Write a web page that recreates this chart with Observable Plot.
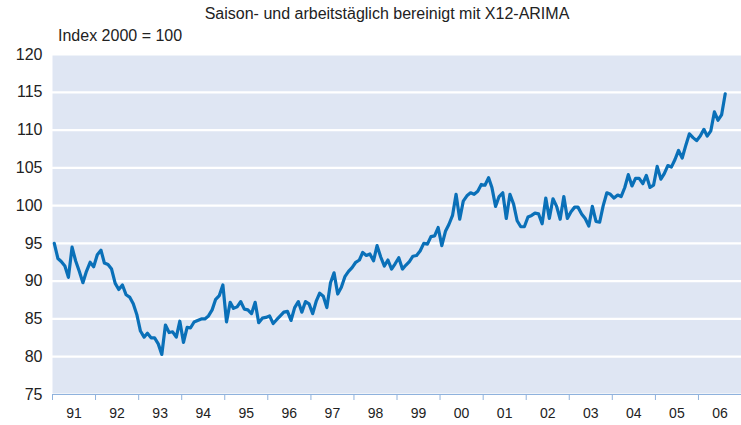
<!DOCTYPE html>
<html>
<head>
<meta charset="utf-8">
<script src="https://cdn.jsdelivr.net/npm/d3@7"></script>
<script src="https://cdn.jsdelivr.net/npm/@observablehq/plot@0.6"></script>
<style>
  body { margin: 0; background: #fff; font-family: "Liberation Sans", Arial, sans-serif; color: #222; }
  #title { height: 27px; line-height: 27px; text-align: center; padding-left: 33px; font-size: 16px; width: 708px; }
  #sub { height: 18px; line-height: 18px; padding-left: 58px; font-size: 16px; }
</style>
</head>
<body>
<div id="title">Saison- und arbeitstäglich bereinigt mit X12-ARIMA</div>
<div id="sub">Index 2000 = 100</div>
<div id="chart"></div>
<script>
const startYear = 1991;
const yearLabels = ["91","92","93","94","95","96","97","98","99","00","01","02","03","04","05","06"];
const yTicks = [75, 80, 85, 90, 95, 100, 105, 110, 115, 120];

const v1991 = [95.0, 93.0, 92.6, 92.0, 90.5, 94.5, 92.7, 91.3, 89.8, 91.3, 92.5, 91.9];
const v1992 = [93.5, 94.1, 92.4, 92.2, 91.6, 89.7, 88.9, 89.5, 88.2, 87.9, 87.0, 85.6];
const v1993 = [83.4, 82.6, 83.1, 82.5, 82.5, 81.7, 80.3, 84.2, 83.2, 83.3, 82.6, 84.7];
const v1994 = [81.9, 83.9, 83.8, 84.6, 84.8, 85.0, 85.0, 85.4, 86.2, 87.6, 88.1, 89.5];
const v1995 = [84.6, 87.2, 86.4, 86.6, 87.3, 86.3, 86.2, 85.7, 87.2, 84.5, 85.1, 85.2];
const v1996 = [85.4, 84.4, 84.9, 85.4, 85.9, 86.0, 84.8, 86.5, 87.3, 85.9, 87.3, 87.0];
const v1997 = [85.7, 87.4, 88.4, 88.0, 86.5, 89.8, 91.1, 88.3, 89.2, 90.6, 91.3, 91.8];
const v1998 = [92.5, 92.8, 93.8, 93.4, 93.6, 92.7, 94.7, 93.2, 92.0, 92.8, 91.6, 92.3];
const v1999 = [93.1, 91.6, 92.1, 92.6, 93.3, 93.4, 94.0, 95.0, 94.9, 95.9, 96.0, 97.1];
const v2000 = [94.7, 96.6, 97.5, 98.7, 101.5, 98.2, 100.6, 101.3, 101.7, 101.5, 101.9, 102.8];
const v2001 = [102.7, 103.7, 102.4, 99.9, 101.2, 101.7, 98.3, 101.5, 100.2, 98.0, 97.2, 97.2];
const v2002 = [98.5, 98.7, 99.0, 98.9, 97.6, 101.0, 98.3, 100.9, 99.9, 98.2, 101.2, 98.3];
const v2003 = [99.2, 99.8, 99.8, 98.9, 98.3, 97.3, 99.9, 97.9, 97.8, 100.0, 101.7, 101.5];
const v2004 = [101.0, 101.4, 101.2, 102.4, 104.1, 102.6, 103.6, 103.6, 102.9, 104.0, 102.4, 102.7];
const v2005 = [105.2, 103.5, 104.2, 105.3, 105.1, 106.1, 107.3, 106.3, 108.0, 109.5, 109.0, 108.6];
const v2006 = [109.2, 110.1, 109.2, 109.9, 112.4, 111.3, 112.0, 114.8];

const series = [v1991, v1992, v1993, v1994, v1995, v1996, v1997, v1998, v1999, v2000, v2001, v2002, v2003, v2004, v2005, v2006];
const data = series.flatMap((arr, yi) => arr.map((v, m) => ({date: new Date(Date.UTC(startYear + yi, m, 16)), value: v})));

const yearStarts = d3.range(yearLabels.length + 1).map(i => new Date(Date.UTC(startYear + i, 0, 1)));
const yearMids = yearLabels.map((_, i) => new Date(Date.UTC(startYear + i, 6, 2)));

const chart = Plot.plot({
  width: 741,
  height: 380,
  marginTop: 9,
  marginBottom: 31,
  marginLeft: 52,
  marginRight: 0,
  style: {fontFamily: "'Liberation Sans', Arial, sans-serif", color: "#222", background: "transparent"},
  x: {type: "utc", domain: [yearStarts[0], yearStarts[yearStarts.length - 1]]},
  y: {domain: [75, 120]},
  marks: [
    Plot.frame({fill: "#dfe6f3", stroke: null}),
    Plot.gridY(yTicks, {stroke: "#ffffff", strokeOpacity: 1, strokeWidth: 2.2}),
    Plot.ruleY([75], {stroke: "#8fb2dd", strokeWidth: 1.2}),
    Plot.axisY(yTicks, {tickSize: 0, tickPadding: 10, fontSize: 16, label: null, fill: "#222"}),
    Plot.axisX(yearStarts, {tickSize: 6, tickFormat: () => "", stroke: "#8fb2dd", label: null}),
    Plot.axisX(yearMids, {tickSize: 0, tickPadding: 14, fontSize: 14, label: null, fill: "#222",
      tickFormat: (d) => yearLabels[d.getUTCFullYear() - startYear]}),
    Plot.lineY(data, {x: "date", y: "value", stroke: "#0a70b8", strokeWidth: 3.2, strokeLinejoin: "round"})
  ]
});
document.getElementById("chart").appendChild(chart);
</script>
</body>
</html>
